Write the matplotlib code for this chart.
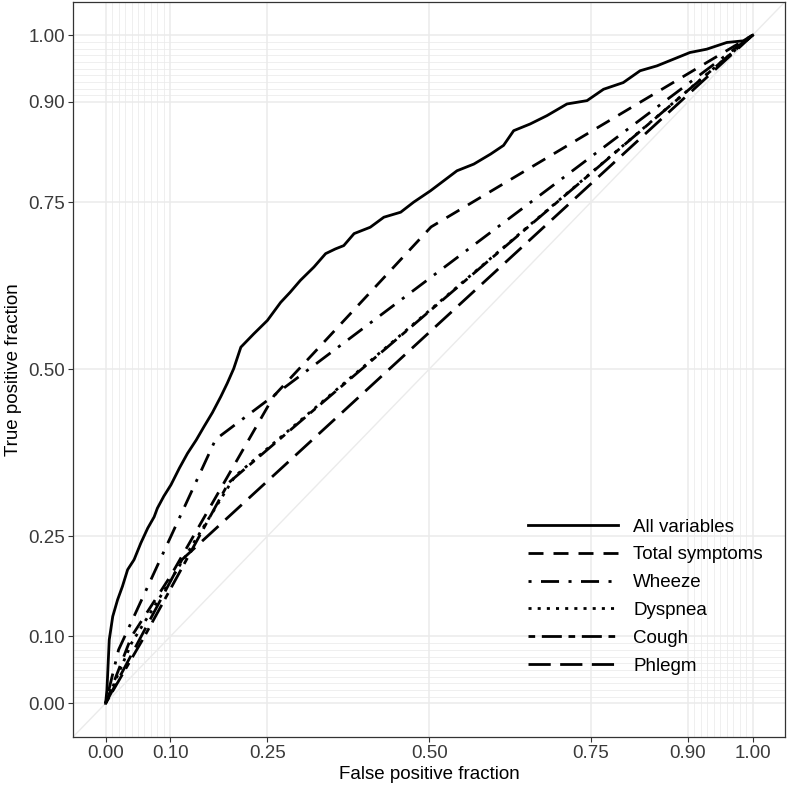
import matplotlib
matplotlib.use("Agg")
import matplotlib.pyplot as plt

plt.rcParams['font.family'] = ['Liberation Sans', 'DejaVu Sans']
plt.rcParams['lines.scale_dashes'] = False

# ROC curve data
all_fpr = [0, 0.002, 0.003, 0.0056, 0.011, 0.0185, 0.026, 0.034, 0.044, 0.0545,
           0.065, 0.075, 0.080, 0.090, 0.101, 0.114, 0.1265, 0.14, 0.152, 0.165,
           0.178, 0.188, 0.198, 0.209, 0.229, 0.25, 0.2705, 0.285, 0.301, 0.322,
           0.34, 0.355, 0.368, 0.384, 0.409, 0.43, 0.456, 0.476, 0.502, 0.5225,
           0.543, 0.569, 0.595, 0.615, 0.6306, 0.656, 0.682, 0.713, 0.744, 0.7695,
           0.800, 0.826, 0.852, 0.8775, 0.903, 0.929, 0.96, 0.9855, 1.0]
all_tpr = [0, 0.02, 0.04, 0.095, 0.13, 0.155, 0.175, 0.2, 0.215, 0.24,
           0.262, 0.279, 0.292, 0.31, 0.327, 0.352, 0.374, 0.394, 0.414, 0.435,
           0.459, 0.479, 0.501, 0.533, 0.553, 0.573, 0.600, 0.615, 0.633, 0.653,
           0.673, 0.68, 0.685, 0.703, 0.7125, 0.7275, 0.735, 0.75, 0.767, 0.782,
           0.797, 0.807, 0.822, 0.835, 0.857, 0.867, 0.8795, 0.897, 0.902, 0.919,
           0.929, 0.9467, 0.954, 0.964, 0.974, 0.979, 0.989, 0.9915, 1.0]

total_fpr = [0, 0.04, 0.10, 0.26, 0.503, 1.0]
total_tpr = [0, 0.10, 0.19, 0.46, 0.713, 1.0]

wheeze_fpr = [0, 0.02, 0.17, 1.0]
wheeze_tpr = [0, 0.08, 0.395, 1.0]

dyspnea_fpr = [0, 0.04, 0.20, 1.0]
dyspnea_tpr = [0, 0.09, 0.34, 1.0]

cough_fpr = [0, 0.06, 0.19, 1.0]
cough_tpr = [0, 0.10, 0.33, 1.0]

phlegm_fpr = [0, 0.118, 1.0]
phlegm_tpr = [0, 0.215, 1.0]

labels = ['All variables', 'Total symptoms', 'Wheeze', 'Dyspnea', 'Cough', 'Phlegm']
major_breaks = [0, 0.1, 0.25, 0.5, 0.75, 0.9, 1.0]
major_labels = ['0.00', '0.10', '0.25', '0.50', '0.75', '0.90', '1.00']
minor_breaks = [i / 100 for i in range(1, 10)] + [0.9 + i / 100 for i in range(1, 10)]

fig = plt.figure(figsize=(7.87, 7.88), dpi=100)
ax = fig.add_axes([0.0931, 0.0651, 0.9044, 0.9327])

grid_col = '#EBEBEB'
for v in minor_breaks:
    ax.axvline(v, color=grid_col, lw=0.55, zorder=0)
    ax.axhline(v, color=grid_col, lw=0.55, zorder=0)
for v in major_breaks:
    ax.axvline(v, color=grid_col, lw=1.1, zorder=0)
    ax.axhline(v, color=grid_col, lw=1.1, zorder=0)
ax.axline((0, 0), (1, 1), color=grid_col, lw=1.0, zorder=1)

lw = 2.0
ax.plot(all_fpr, all_tpr, color='black', lw=lw, linestyle='-', label=labels[0])
ax.plot(total_fpr, total_tpr, color='black', lw=lw, linestyle=(0, (10.8, 7.2)), label=labels[1])
ax.plot(wheeze_fpr, wheeze_tpr, color='black', lw=lw, linestyle=(0, (2.2, 6.8, 13, 6.8)), label=labels[2])
ax.plot(dyspnea_fpr, dyspnea_tpr, color='black', lw=lw, linestyle=(0, (2.2, 4.4)), label=labels[3])
ax.plot(cough_fpr, cough_tpr, color='black', lw=lw, linestyle=(0, (4.8, 4.8, 14.4, 4.8)), label=labels[4])
ax.plot(phlegm_fpr, phlegm_tpr, color='black', lw=lw, linestyle=(0, (16, 6.8)), label=labels[5])

ax.set_xlim(-0.05, 1.05)
ax.set_ylim(-0.05, 1.05)
ax.set_xticks(major_breaks)
ax.set_xticklabels(major_labels)
ax.set_yticks(major_breaks)
ax.set_yticklabels(major_labels)
ax.tick_params(axis='both', length=3.6, width=0.8, color='#333333',
               labelsize=13.5, labelcolor='#3A3A3A', pad=2.5)

for sp in ax.spines.values():
    sp.set_color('#333333')
    sp.set_linewidth(0.9)

ax.set_xlabel('False positive fraction', fontsize=13.5, labelpad=3)
ax.set_ylabel('True positive fraction', fontsize=13.5, labelpad=4)

leg = ax.legend(loc='upper left', bbox_to_anchor=(0.639, 0.297), frameon=False,
                fontsize=13.5, handlelength=4.8, handletextpad=0.8,
                labelspacing=0.57, borderpad=0, borderaxespad=0)

fig.savefig('out.png', dpi=100)
